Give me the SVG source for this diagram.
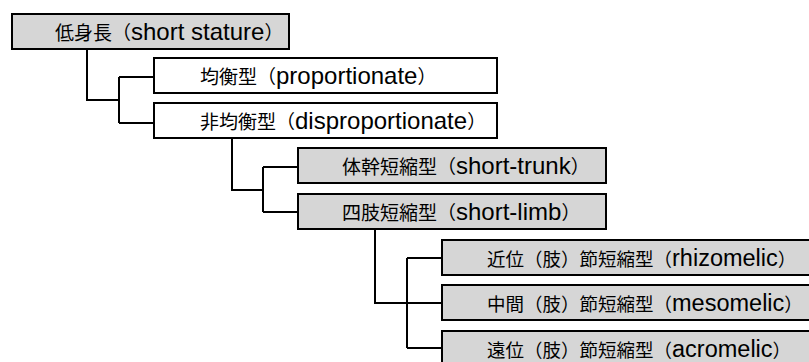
<svg xmlns="http://www.w3.org/2000/svg" width="809" height="362" viewBox="0 0 809 362">
  <style>
    .box { stroke: #000; stroke-width: 2; }
    .gray { fill: #d6d6d6; }
    .white { fill: #ffffff; }
    .lbl { font-family: "Liberation Sans", "Noto Sans CJK JP", sans-serif; fill: #000; }
    .j { font-family: "Noto Sans CJK JP", sans-serif; font-size: 19px; }
    .e { font-family: "Liberation Sans", Arial, sans-serif; font-size: 24px; }
    .j2 { font-family: "Noto Sans CJK JP", sans-serif; font-size: 18.5px; }
    .e2 { font-family: "Liberation Sans", Arial, sans-serif; font-size: 23.5px; }
    .conn { fill: none; stroke: #000; stroke-width: 2; }
  </style>
  <rect width="809" height="362" fill="#ffffff"/>

  <g id="connectors">
    <path class="conn" d="M87,49 V100 H119 M119,77 V123 M119,77 H154 M119,123 H154"/>
    <path class="conn" d="M232,138 V190 H263 M263,167 V212 M263,167 H298 M263,212 H298"/>
    <path class="conn" d="M375,229 V303 H407 M407,258 V348 M407,258 H442 M407,303 H442 M407,348 H442"/>
  </g>

  <g id="short-stature">
    <rect class="box gray" x="12" y="14" width="277" height="35"/>
    <text class="lbl" x="55" y="40"><tspan class="j">低身長（</tspan><tspan class="e">short stature</tspan><tspan class="j">）</tspan></text>
  </g>

  <g id="proportionate">
    <rect class="box white" x="154" y="58" width="343" height="35"/>
    <text class="lbl" x="200" y="84"><tspan class="j">均衡型（</tspan><tspan class="e">proportionate</tspan><tspan class="j">）</tspan></text>
  </g>

  <g id="disproportionate">
    <rect class="box white" x="154" y="103" width="343" height="35"/>
    <text class="lbl" x="200" y="129"><tspan class="j">非均衡型（</tspan><tspan class="e">disproportionate</tspan><tspan class="j">）</tspan></text>
  </g>

  <g id="short-trunk">
    <rect class="box gray" x="298" y="148" width="308" height="35"/>
    <text class="lbl" x="342" y="174"><tspan class="j">体幹短縮型（</tspan><tspan class="e">short-trunk</tspan><tspan class="j">）</tspan></text>
  </g>

  <g id="short-limb">
    <rect class="box gray" x="298" y="194" width="308" height="35"/>
    <text class="lbl" x="342" y="220"><tspan class="j">四肢短縮型（</tspan><tspan class="e">short-limb</tspan><tspan class="j">）</tspan></text>
  </g>

  <g id="rhizomelic">
    <rect class="box gray" x="442" y="240" width="380" height="35"/>
    <text class="lbl" x="487" y="266"><tspan class="j2">近位（肢）節短縮型（</tspan><tspan class="e2">rhizomelic</tspan><tspan class="j2">）</tspan></text>
  </g>

  <g id="mesomelic">
    <rect class="box gray" x="442" y="285" width="380" height="35"/>
    <text class="lbl" x="487" y="311"><tspan class="j2">中間（肢）節短縮型（</tspan><tspan class="e2">mesomelic</tspan><tspan class="j2">）</tspan></text>
  </g>

  <g id="acromelic">
    <rect class="box gray" x="442" y="331" width="380" height="40"/>
    <text class="lbl" x="487" y="357"><tspan class="j2">遠位（肢）節短縮型（</tspan><tspan class="e2">acromelic</tspan><tspan class="j2">）</tspan></text>
  </g>
</svg>
